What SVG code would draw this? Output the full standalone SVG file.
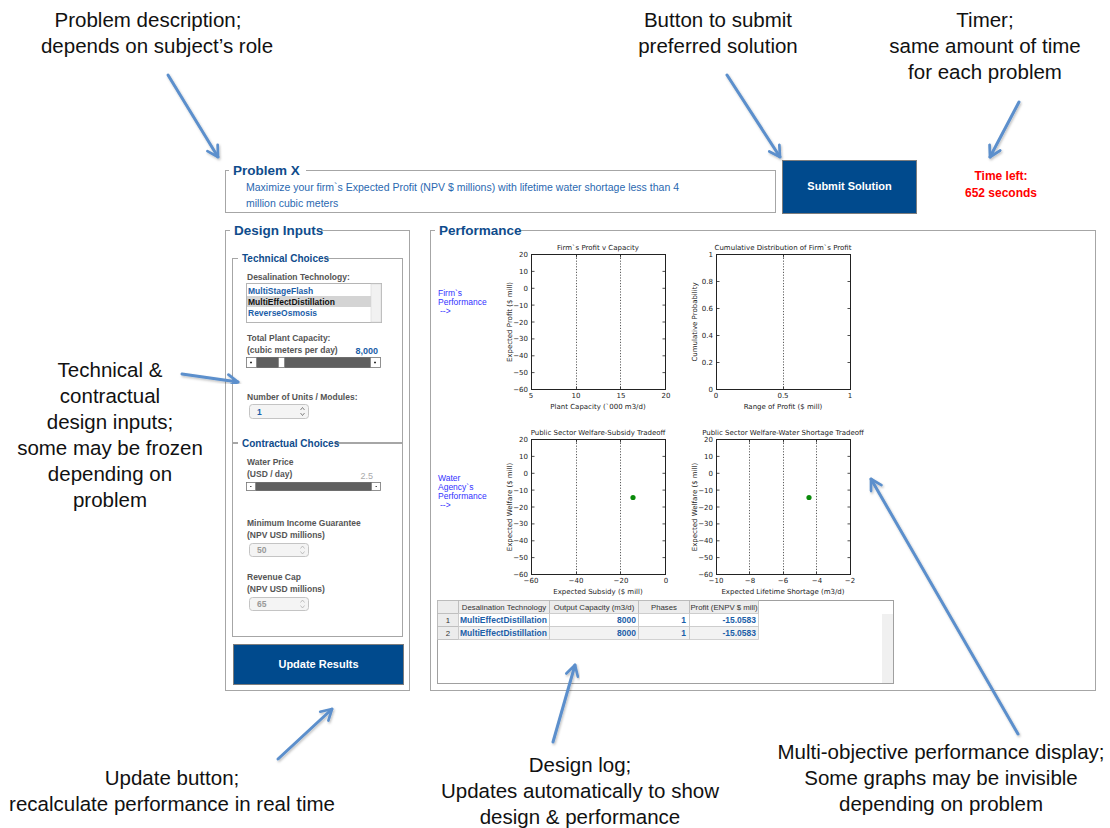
<svg xmlns="http://www.w3.org/2000/svg" width="1110" height="828" viewBox="0 0 1110 828">
  <defs>
    <style>
      .note { font-family: "Liberation Sans", Arial, sans-serif; font-size: 20.5px; fill: #111; text-anchor: middle; }
      .frame { fill: none; stroke: #a6a6a6; stroke-width: 1; }
      .ptitle { font-family: "Liberation Sans", Arial, sans-serif; font-size: 13.5px; font-weight: bold; fill: #0f4c8c; }
      .stitle { font-family: "Liberation Sans", Arial, sans-serif; font-size: 10px; font-weight: bold; fill: #0f4c8c; }
      .lbl { font-family: "Liberation Sans", Arial, sans-serif; font-size: 8.5px; font-weight: bold; fill: #555; }
      .item { font-family: "Liberation Sans", Arial, sans-serif; font-size: 8.5px; font-weight: bold; fill: #1b5ea8; }
      .desc { font-family: "Liberation Sans", Arial, sans-serif; font-size: 10.5px; fill: #2a68b0; }
      .btn { fill: #004a8d; stroke: #7d7d7d; stroke-width: 1; }
      .btntxt { font-family: "Liberation Sans", Arial, sans-serif; font-size: 11px; font-weight: bold; fill: #fff; text-anchor: middle; }
      .timer { font-family: "Liberation Sans", Arial, sans-serif; font-size: 12px; font-weight: bold; fill: #ff0000; text-anchor: middle; }
      .side { font-family: "Liberation Sans", Arial, sans-serif; font-size: 8.5px; fill: #3333ff; }
      .axes { fill: #fff; stroke: #222; stroke-width: 1; }
      .grid { stroke: #333; stroke-width: 0.8; stroke-dasharray: 1.2 1.6; }
      .tick { stroke: #222; stroke-width: 0.8; }
      .tly { font-family: "DejaVu Sans", sans-serif; font-size: 7px; fill: #222; text-anchor: end; }
      .tlx { font-family: "DejaVu Sans", sans-serif; font-size: 7px; fill: #222; text-anchor: middle; }
      .ax { font-family: "DejaVu Sans", sans-serif; font-size: 7px; fill: #222; text-anchor: middle; }
      .spin { fill: #f4f4f4; stroke: #c4c4c4; stroke-width: 1; }
      .spintxt { font-family: "Liberation Sans", Arial, sans-serif; font-size: 8.5px; font-weight: bold; }
      .slider { fill: #5f5f5f; stroke: #444; stroke-width: 0.6; }
      .sbtn { fill: #fff; stroke: #777; stroke-width: 0.6; }
      .cell { fill: #fff; stroke: #c8c8c8; stroke-width: 0.8; }
      .head { fill: #ececec; stroke: #b8b8b8; stroke-width: 0.8; }
      .htxt { font-family: "Liberation Sans", Arial, sans-serif; font-size: 7.8px; fill: #333; }
      .ctxt { font-family: "Liberation Sans", Arial, sans-serif; font-size: 8.5px; font-weight: bold; fill: #1b5ea8; }
      .pt { fill: #0a8a0a; }
      .arrow { fill: none; stroke: #5b8fcc; stroke-width: 3; stroke-linecap: round; marker-end: url(#head); filter: url(#shade); }
    </style>
    <marker id="head" viewBox="0 0 10 10" refX="8.5" refY="5" markerWidth="5" markerHeight="5" orient="auto" markerUnits="strokeWidth">
      <path d="M1.5,1 L8.5,5 L1.5,9" fill="none" stroke="#5b8fcc" stroke-width="1.8" stroke-linecap="round" stroke-linejoin="round"/>
    </marker>
    <filter id="shade" x="-20%" y="-20%" width="140%" height="140%">
      <feDropShadow dx="1" dy="1.5" stdDeviation="1" flood-color="#000" flood-opacity="0.25"/>
    </filter>
  </defs>

  <rect x="0" y="0" width="1110" height="828" fill="#fff"/>

  <!-- Callout notes -->
  <g id="note-problem">
    <text class="note" x="148" y="27">Problem description;</text>
    <text class="note" x="157" y="53">depends on subject’s role</text>
  </g>
  <g id="note-submit">
    <text class="note" x="718" y="27">Button to submit</text>
    <text class="note" x="718" y="53">preferred solution</text>
  </g>
  <g id="note-timer">
    <text class="note" x="985" y="27">Timer;</text>
    <text class="note" x="985" y="53">same amount of time</text>
    <text class="note" x="985" y="79">for each problem</text>
  </g>
  <g id="note-inputs">
    <text class="note" x="110" y="377">Technical &amp;</text>
    <text class="note" x="110" y="403">contractual</text>
    <text class="note" x="110" y="429">design inputs;</text>
    <text class="note" x="110" y="455">some may be frozen</text>
    <text class="note" x="110" y="481">depending on</text>
    <text class="note" x="110" y="507">problem</text>
  </g>
  <g id="note-update">
    <text class="note" x="172" y="785">Update button;</text>
    <text class="note" x="172" y="811">recalculate performance in real time</text>
  </g>
  <g id="note-log">
    <text class="note" x="580" y="772">Design log;</text>
    <text class="note" x="580" y="798">Updates automatically to show</text>
    <text class="note" x="580" y="824">design &amp; performance</text>
  </g>
  <g id="note-display">
    <text class="note" x="941" y="759">Multi-objective performance display;</text>
    <text class="note" x="941" y="785">Some graphs may be invisible</text>
    <text class="note" x="941" y="811">depending on problem</text>
  </g>

  <!-- Problem statement -->
  <g id="problem">
    <rect class="frame" x="225.5" y="170.5" width="550" height="42"/>
    <rect x="229" y="163" width="77" height="14" fill="#fff"/>
    <text class="ptitle" x="233" y="175">Problem X</text>
    <text class="desc" x="246" y="191">Maximize your firm`s Expected Profit (NPV $ millions) with lifetime water shortage less than 4</text>
    <text class="desc" x="246" y="207">million cubic meters</text>
  </g>

  <!-- Submit button -->
  <g id="submit">
    <rect class="btn" x="782.5" y="160.5" width="134" height="53"/>
    <text class="btntxt" x="849.5" y="190">Submit Solution</text>
  </g>

  <!-- Timer -->
  <g id="timer">
    <text class="timer" x="1001" y="180">Time left:</text>
    <text class="timer" x="1001" y="197">652 seconds</text>
  </g>

  <!-- Design inputs panel -->
  <g id="design-inputs">
    <rect class="frame" x="225.5" y="230.5" width="184" height="460"/>
    <rect x="230" y="224" width="91" height="13" fill="#fff"/>
    <text class="ptitle" x="234" y="235">Design Inputs</text>

    <!-- Technical choices -->
    <rect class="frame" x="232.5" y="258.5" width="170" height="184"/>
    <rect x="238" y="252" width="87" height="12" fill="#fff"/>
    <text class="stitle" x="242" y="262">Technical Choices</text>
    <text class="lbl" x="247" y="280">Desalination Technology:</text>
    <rect x="246.5" y="283.5" width="135" height="39" fill="#fff" stroke="#b5b5b5"/>
    <rect x="371" y="284" width="10" height="38" fill="#f1f1f1" stroke="#d5d5d5" stroke-width="0.6"/>
    <rect x="247" y="296" width="124" height="11" fill="#d4d4d4"/>
    <text class="item" x="248" y="294">MultiStageFlash</text>
    <text class="item" x="248" y="305" style="fill:#111">MultiEffectDistillation</text>
    <text class="item" x="248" y="316">ReverseOsmosis</text>

    <text class="lbl" x="247" y="341">Total Plant Capacity:</text>
    <text class="lbl" x="247" y="353">(cubic meters per day)</text>
    <text class="item" x="378" y="354" text-anchor="end" style="font-size:9px">8,000</text>
    <rect class="slider" x="246.5" y="357.5" width="134" height="10"/>
    <rect class="sbtn" x="246.5" y="357.5" width="10" height="10"/>
    <rect class="sbtn" x="370.5" y="357.5" width="10" height="10"/>
    <rect class="sbtn" x="278.5" y="357.5" width="6" height="10"/>
    <path d="M252,362.5 l-2,0" stroke="#333" stroke-width="1.5"/>
    <path d="M374,362.5 l2,0" stroke="#333" stroke-width="1.5"/>

    <text class="lbl" x="247" y="400">Number of Units / Modules:</text>
    <rect class="spin" x="249.5" y="404.5" width="59" height="14" rx="3"/>
    <text class="spintxt" x="257" y="415" style="fill:#1b5ea8">1</text>
    <path d="M300.5,410 l2,-2.5 l2,2.5 M300.5,413 l2,2.5 l2,-2.5" fill="none" stroke="#555" stroke-width="0.7"/>

    <!-- Contractual choices -->
    <rect class="frame" x="232.5" y="443.5" width="170" height="193"/>
    <rect x="238" y="437" width="97" height="12" fill="#fff"/>
    <text class="stitle" x="242" y="447">Contractual Choices</text>
    <text class="lbl" x="247" y="465">Water Price</text>
    <text class="lbl" x="247" y="477">(USD / day)</text>
    <text class="lbl" x="373" y="479" text-anchor="end" style="fill:#aaa;font-weight:normal;font-size:9px">2.5</text>
    <rect class="slider" x="246.5" y="482.5" width="134" height="8"/>
    <rect class="sbtn" x="246.5" y="482.5" width="9" height="8"/>
    <rect class="sbtn" x="371.5" y="482.5" width="9" height="8"/>
    <path d="M251.5,486.5 l-1.5,0" stroke="#555" stroke-width="1.2"/>
    <path d="M375.5,486.5 l1.5,0" stroke="#555" stroke-width="1.2"/>

    <text class="lbl" x="247" y="526">Minimum Income Guarantee</text>
    <text class="lbl" x="247" y="538">(NPV USD millions)</text>
    <rect class="spin" x="249.5" y="543.5" width="59" height="13" rx="3"/>
    <text class="spintxt" x="257" y="553" style="fill:#999">50</text>
    <path d="M300.5,548.5 l2,-2.5 l2,2.5 M300.5,551.5 l2,2.5 l2,-2.5" fill="none" stroke="#aaa" stroke-width="0.7"/>

    <text class="lbl" x="247" y="580">Revenue Cap</text>
    <text class="lbl" x="247" y="592">(NPV USD millions)</text>
    <rect class="spin" x="249.5" y="597.5" width="59" height="13" rx="3"/>
    <text class="spintxt" x="257" y="607" style="fill:#999">65</text>
    <path d="M300.5,602.5 l2,-2.5 l2,2.5 M300.5,605.5 l2,2.5 l2,-2.5" fill="none" stroke="#aaa" stroke-width="0.7"/>
  </g>

  <!-- Update button -->
  <g id="update">
    <rect class="btn" x="233.5" y="644.5" width="170" height="40"/>
    <text class="btntxt" x="318.5" y="668">Update Results</text>
  </g>

  <!-- Performance panel -->
  <g id="performance">
    <rect class="frame" x="430.5" y="230.5" width="665" height="460"/>
    <rect x="435" y="224" width="84" height="13" fill="#fff"/>
    <text class="ptitle" x="439" y="235">Performance</text>
    <text class="side" x="438" y="296">Firm`s</text>
    <text class="side" x="438" y="305">Performance</text>
    <text class="side" x="440" y="314">--&gt;</text>
    <text class="side" x="438" y="481">Water</text>
    <text class="side" x="438" y="490">Agency`s</text>
    <text class="side" x="438" y="499">Performance</text>
    <text class="side" x="440" y="508">--&gt;</text>
  </g>

  <!-- Plot: profit vs capacity -->
  <g id="plot-profit">
    <text class="ax" x="598" y="250">Firm`s Profit v Capacity</text>
    <rect class="axes" x="531.5" y="254.5" width="134" height="135"/>
    <path class="grid" d="M576.5,255 V389 M620.5,255 V389"/>
    <path class="tick" d="M531.5,271.4h3M531.5,288.3h3M531.5,305.1h3M531.5,322h3M531.5,338.9h3M531.5,355.8h3M531.5,372.6h3
                          M665.5,271.4h-3M665.5,288.3h-3M665.5,305.1h-3M665.5,322h-3M665.5,338.9h-3M665.5,355.8h-3M665.5,372.6h-3
                          M576.5,389.5v-3M620.5,389.5v-3M576.5,254.5v3M620.5,254.5v3"/>
    <text class="tly" x="528" y="257">20</text>
    <text class="tly" x="528" y="274">10</text>
    <text class="tly" x="528" y="291">0</text>
    <text class="tly" x="528" y="308">−10</text>
    <text class="tly" x="528" y="325">−20</text>
    <text class="tly" x="528" y="341">−30</text>
    <text class="tly" x="528" y="358">−40</text>
    <text class="tly" x="528" y="375">−50</text>
    <text class="tly" x="528" y="392">−60</text>
    <text class="tlx" x="531" y="398">5</text>
    <text class="tlx" x="576" y="398">10</text>
    <text class="tlx" x="621" y="398">15</text>
    <text class="tlx" x="666" y="398">20</text>
    <text class="ax" x="598" y="409">Plant Capacity (`000 m3/d)</text>
    <text class="ax" x="512" y="322" transform="rotate(-90 512 322)">Expected Profit ($ mill)</text>
  </g>

  <!-- Plot: cumulative distribution -->
  <g id="plot-cdf">
    <text class="ax" x="783" y="250">Cumulative Distribution of Firm`s Profit</text>
    <rect class="axes" x="716.5" y="254.5" width="134" height="135"/>
    <path class="grid" d="M783.5,255 V389"/>
    <path class="tick" d="M716.5,281.5h3M716.5,308.5h3M716.5,335.5h3M716.5,362.5h3
                          M850.5,281.5h-3M850.5,308.5h-3M850.5,335.5h-3M850.5,362.5h-3
                          M783.5,389.5v-3M783.5,254.5v3"/>
    <text class="tly" x="713" y="257">1</text>
    <text class="tly" x="713" y="284">0.8</text>
    <text class="tly" x="713" y="311">0.6</text>
    <text class="tly" x="713" y="338">0.4</text>
    <text class="tly" x="713" y="365">0.2</text>
    <text class="tly" x="713" y="392">0</text>
    <text class="tlx" x="716" y="398">0</text>
    <text class="tlx" x="783" y="398">0.5</text>
    <text class="tlx" x="850" y="398">1</text>
    <text class="ax" x="783" y="409">Range of Profit ($ mill)</text>
    <text class="ax" x="697" y="322" transform="rotate(-90 697 322)">Cumulative Probability</text>
  </g>

  <!-- Plot: welfare vs subsidy -->
  <g id="plot-subsidy">
    <text class="ax" x="598" y="435">Public Sector Welfare-Subsidy Tradeoff</text>
    <rect class="axes" x="531.5" y="439.5" width="134" height="135"/>
    <path class="grid" d="M576.5,440 V574 M620.5,440 V574"/>
    <path class="tick" d="M531.5,456.4h3M531.5,473.3h3M531.5,490.1h3M531.5,507h3M531.5,523.9h3M531.5,540.8h3M531.5,557.6h3
                          M665.5,456.4h-3M665.5,473.3h-3M665.5,490.1h-3M665.5,507h-3M665.5,523.9h-3M665.5,540.8h-3M665.5,557.6h-3
                          M576.5,574.5v-3M620.5,574.5v-3M576.5,439.5v3M620.5,439.5v3"/>
    <text class="tly" x="528" y="442">20</text>
    <text class="tly" x="528" y="459">10</text>
    <text class="tly" x="528" y="476">0</text>
    <text class="tly" x="528" y="493">−10</text>
    <text class="tly" x="528" y="510">−20</text>
    <text class="tly" x="528" y="526">−30</text>
    <text class="tly" x="528" y="543">−40</text>
    <text class="tly" x="528" y="560">−50</text>
    <text class="tly" x="528" y="577">−60</text>
    <text class="tlx" x="531" y="583">−60</text>
    <text class="tlx" x="576" y="583">−40</text>
    <text class="tlx" x="621" y="583">−20</text>
    <text class="tlx" x="666" y="583">0</text>
    <text class="ax" x="598" y="594">Expected Subsidy ($ mill)</text>
    <text class="ax" x="512" y="507" transform="rotate(-90 512 507)">Expected Welfare ($ mill)</text>
    <circle class="pt" cx="633" cy="497.5" r="2.6"/>
  </g>

  <!-- Plot: welfare vs shortage -->
  <g id="plot-shortage">
    <text class="ax" x="783" y="435">Public Sector Welfare-Water Shortage Tradeoff</text>
    <rect class="axes" x="716.5" y="439.5" width="134" height="135"/>
    <path class="grid" d="M749.5,440 V574 M783.5,440 V574 M816.5,440 V574"/>
    <path class="tick" d="M716.5,456.4h3M716.5,473.3h3M716.5,490.1h3M716.5,507h3M716.5,523.9h3M716.5,540.8h3M716.5,557.6h3
                          M850.5,456.4h-3M850.5,473.3h-3M850.5,490.1h-3M850.5,507h-3M850.5,523.9h-3M850.5,540.8h-3M850.5,557.6h-3
                          M749.5,574.5v-3M783.5,574.5v-3M816.5,574.5v-3M749.5,439.5v3M783.5,439.5v3M816.5,439.5v3"/>
    <text class="tly" x="713" y="442">20</text>
    <text class="tly" x="713" y="459">10</text>
    <text class="tly" x="713" y="476">0</text>
    <text class="tly" x="713" y="493">−10</text>
    <text class="tly" x="713" y="510">−20</text>
    <text class="tly" x="713" y="526">−30</text>
    <text class="tly" x="713" y="543">−40</text>
    <text class="tly" x="713" y="560">−50</text>
    <text class="tly" x="713" y="577">−60</text>
    <text class="tlx" x="716" y="583">−10</text>
    <text class="tlx" x="750" y="583">−8</text>
    <text class="tlx" x="783" y="583">−6</text>
    <text class="tlx" x="817" y="583">−4</text>
    <text class="tlx" x="850" y="583">−2</text>
    <text class="ax" x="783" y="594">Expected Lifetime Shortage (m3/d)</text>
    <text class="ax" x="697" y="507" transform="rotate(-90 697 507)">Expected Welfare ($ mill)</text>
    <circle class="pt" cx="809" cy="497.5" r="2.6"/>
  </g>

  <!-- Design log table -->
  <g id="design-log">
    <rect x="437.5" y="600.5" width="456" height="83" fill="#fff" stroke="#a0a0a0"/>
    <rect x="882" y="614" width="11" height="69" fill="#f0f0f0"/>
    <rect class="head" x="437.5" y="600.5" width="21" height="13"/>
    <rect class="head" x="458.5" y="600.5" width="91" height="13"/>
    <rect class="head" x="549.5" y="600.5" width="89" height="13"/>
    <rect class="head" x="638.5" y="600.5" width="51" height="13"/>
    <rect class="head" x="689.5" y="600.5" width="69" height="13"/>
    <text class="htxt" x="504" y="610" text-anchor="middle">Desalination Technology</text>
    <text class="htxt" x="594" y="610" text-anchor="middle">Output Capacity (m3/d)</text>
    <text class="htxt" x="664" y="610" text-anchor="middle">Phases</text>
    <text class="htxt" x="724" y="610" text-anchor="middle">Profit (ENPV $ mill)</text>

    <rect class="head" x="437.5" y="613.5" width="21" height="13"/>
    <rect class="cell" x="458.5" y="613.5" width="91" height="13"/>
    <rect class="cell" x="549.5" y="613.5" width="89" height="13"/>
    <rect class="cell" x="638.5" y="613.5" width="51" height="13"/>
    <rect class="cell" x="689.5" y="613.5" width="69" height="13"/>
    <rect class="head" x="437.5" y="626.5" width="21" height="13"/>
    <rect class="cell" x="458.5" y="626.5" width="91" height="13" style="fill:#f2f2f2"/>
    <rect class="cell" x="549.5" y="626.5" width="89" height="13" style="fill:#f2f2f2"/>
    <rect class="cell" x="638.5" y="626.5" width="51" height="13" style="fill:#f2f2f2"/>
    <rect class="cell" x="689.5" y="626.5" width="69" height="13" style="fill:#f2f2f2"/>

    <text class="htxt" x="448" y="623" text-anchor="middle">1</text>
    <text class="htxt" x="448" y="636" text-anchor="middle">2</text>
    <text class="ctxt" x="460" y="623">MultiEffectDistillation</text>
    <text class="ctxt" x="636" y="623" text-anchor="end">8000</text>
    <text class="ctxt" x="686" y="623" text-anchor="end">1</text>
    <text class="ctxt" x="756" y="623" text-anchor="end">-15.0583</text>
    <text class="ctxt" x="460" y="636">MultiEffectDistillation</text>
    <text class="ctxt" x="636" y="636" text-anchor="end">8000</text>
    <text class="ctxt" x="686" y="636" text-anchor="end">1</text>
    <text class="ctxt" x="756" y="636" text-anchor="end">-15.0583</text>
  </g>

  <!-- Callout arrows -->
  <g id="connectors">
    <path class="arrow" d="M168,75 L218,157"/>
    <path class="arrow" d="M727,75 L780,157"/>
    <path class="arrow" d="M1019,102 L990,157"/>
    <path class="arrow" d="M182,374 L238,382"/>
    <path class="arrow" d="M278,759 L332,709"/>
    <path class="arrow" d="M553,742 L575,665"/>
    <path class="arrow" d="M1018,734 L871,479"/>
  </g>
</svg>
